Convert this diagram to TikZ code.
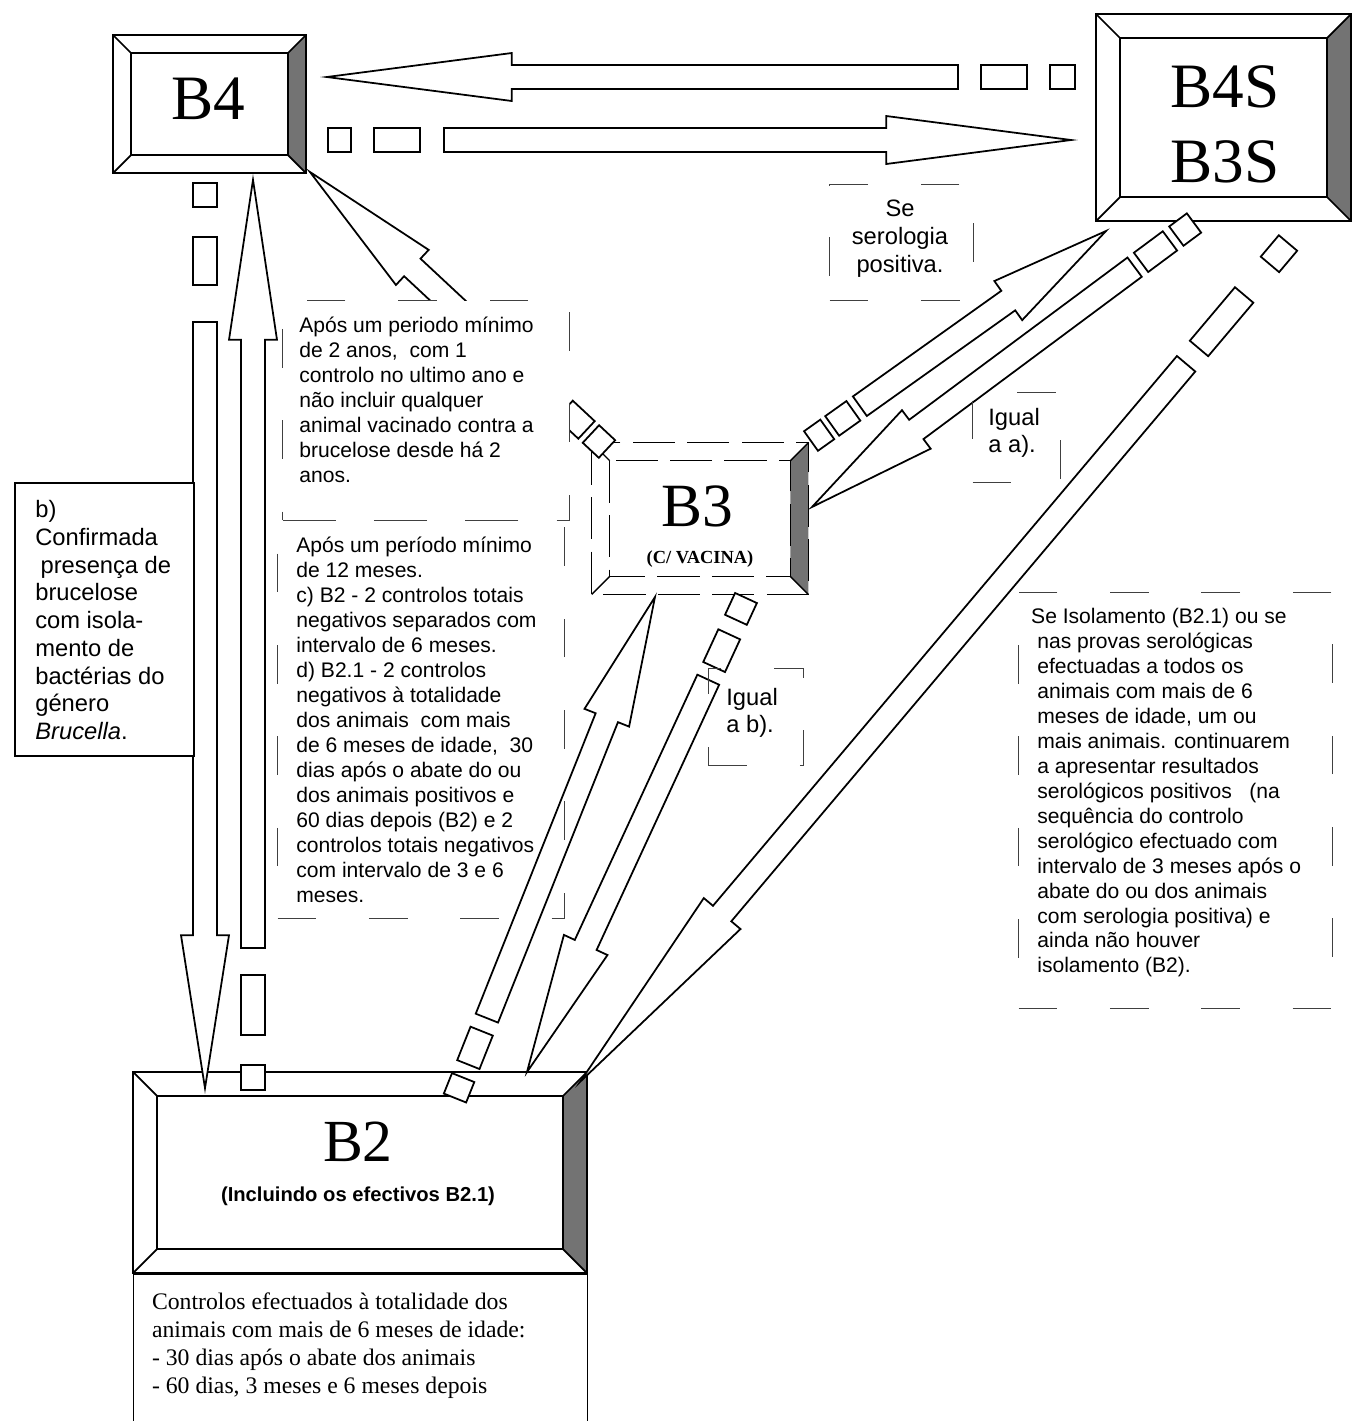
\documentclass[tikz,border=0pt]{standalone}
\usepackage{fontspec}
\setmainfont{Liberation Serif}
\setsansfont{Liberation Sans}
\usetikzlibrary{calc,positioning}

\newdimen\barxa \newdimen\barya \newdimen\barxb \newdimen\baryb
% block arrow: tail, tip, square, gap, rect, gap, head (all in px)
\newcommand{\blockarrow}[7]{%
  \pgfextractx{\barxa}{\pgfpointanchor{#1}{center}}%
  \pgfextracty{\barya}{\pgfpointanchor{#1}{center}}%
  \pgfextractx{\barxb}{\pgfpointanchor{#2}{center}}%
  \pgfextracty{\baryb}{\pgfpointanchor{#2}{center}}%
  \pgfmathsetmacro{\bardx}{(\barxb-\barxa)/28.4528}%
  \pgfmathsetmacro{\bardy}{(\baryb-\barya)/28.4528}%
  \pgfmathsetmacro{\barang}{atan2(\bardy,\bardx)}%
  \pgfmathsetmacro{\barlen}{50*veclen(\bardx,\bardy)}%
  \pgfmathsetmacro{\bara}{#3+#4}%
  \pgfmathsetmacro{\barb}{#3+#4+#5}%
  \pgfmathsetmacro{\barc}{#3+#4+#5+#6}%
  \pgfmathsetmacro{\bard}{\barlen-#7}%
  \begin{scope}[shift={(#1)},rotate=\barang,x=0.02cm,y=0.02cm]
    \draw[arrowpart] (0,-12) rectangle (#3,12);
    \draw[arrowpart] (\bara,-12) rectangle (\barb,12);
    \draw[arrowpart] (\barc,-12) -- (\bard,-12) -- (\bard,-24) -- (\barlen,0)
      -- (\bard,24) -- (\bard,12) -- (\barc,12) -- cycle;
  \end{scope}}
% bevelled frame round a node: [line style], node, inset (px)
\newcommand{\bevel}[3][]{%
  \fill[black!55] (#2.north east) -- ($(#2.north east)+(-#3,#3)$)
    -- ($(#2.south east)+(-#3,-#3)$) -- (#2.south east) -- cycle;
  \draw[line width=1pt,#1] ($(#2.north west)+(#3,#3)$) rectangle ($(#2.south east)+(-#3,-#3)$);
  \draw[line width=1pt,#1] (#2.north west) -- ++(#3,#3) (#2.south west) -- ++(#3,-#3)
    (#2.north east) -- ++(-#3,#3) (#2.south east) -- ++(-#3,-#3);
  \draw[line width=1.2pt,#1] (#2.north west) rectangle (#2.south east);}

\begin{document}
\begin{tikzpicture}[x=0.02cm,y=-0.02cm,
    frame/.style={fill=white,inner sep=0pt},
    arrowpart/.style={draw,line width=1pt,fill=white},
    title/.style={font=\fontsize{36}{36}\selectfont,inner sep=0pt,anchor=base},
    note/.style={font=\sffamily\fontsize{12}{14.2}\selectfont,align=left,inner sep=0pt,anchor=north west},
    bignote/.style={note,font=\sffamily\fontsize{13.5}{15.8}\selectfont},
    faintbox/.style={draw=black!75,line width=0.6pt,dash pattern=on 22pt off 30pt,inner sep=0pt,anchor=north west},
    brokenline/.style={dash pattern=on 24pt off 7pt,line width=0.8pt}]
    \useasboundingbox (0,0) rectangle (1353,1421);
    % frames
    \node[frame,minimum width=3.86cm,minimum height=2.76cm] (B4) at (209.5,104) {};
    \bevel{B4}{18}
    \node[title] (B4 name) at ($(B4.north)+(-1,85)$) {B4};
    \node[frame,minimum width=5.10cm,minimum height=4.14cm] (B4S) at (1223.5,117.5) {};
    \bevel{B4S}{24}
    \node[title] (B4S name) at ($(B4S.north)+(1.5,94)$) {B4S};
    \node[title] (B3S name) at ($(B4S.north)+(1.5,169)$) {B3S};
    \node[frame,minimum width=4.32cm,minimum height=3.02cm] (B3) at (700,518.5) {};
    \bevel[brokenline]{B3}{18}
    \node[title,font=\fontsize{35}{35}\selectfont] (B3 name) at ($(B3.north)+(-3,84)$) {B3};
    \node[title,font=\bfseries\fontsize{10.5}{12}\selectfont] (B3 sub) at ($(B3.north)+(0,121)$) {(C/ VACINA)};
    \node[frame,minimum width=9.08cm,minimum height=4.02cm] (B2) at (360,1172.5) {};
    \bevel{B2}{24}
    \node[title,font=\fontsize{34}{34}\selectfont] (B2 name) at ($(B2.north)+(-2,90)$) {B2};
    \node[title,font=\sffamily\bfseries\fontsize{11.5}{13}\selectfont] (B2 sub) at ($(B2.north)+(-2,130)$) {(Incluindo os efectivos B2.1)};
    \node[draw,line width=1pt,inner sep=0pt,anchor=north west,minimum width=9.08cm,minimum height=3.3cm] (B2 notes) at (B2.south west) {};
    \node[note,font=\fontsize{13.5}{15.9}\selectfont] (B2 text) at ($(B2 notes.north west)+(19,19)$)
      {Controlos efectuados à totalidade dos\\animais com mais de 6 meses de idade:\\- 30 dias após o abate dos animais\\- 60 dias, 3 meses e 6 meses depois};
    % arrows
    \coordinate (B4S-B4 tail) at (1075,77);
    \coordinate (B4S-B4 tip) at (327,77);
    \coordinate (B4-B4S tail) at (328,140);
    \coordinate (B4-B4S tip) at (1071,140);
    \coordinate (B4-B2 tail) at (205,183);
    \coordinate (B4-B2 tip) at (205,1088);
    \coordinate (B2-B4 tail) at (253,1090);
    \coordinate (B2-B4 tip) at (253,180);
    \coordinate (B3-B4 tail) at (607,449);
    \coordinate (B3-B4 tip) at (310,172);
    \coordinate (B2-B3 tail) at (455,1098);
    \coordinate (B2-B3 tip) at (655,597);
    \coordinate (B3-B2 tail) at (746,598);
    \coordinate (B3-B2 tip) at (527,1072);
    \coordinate (B3-B4S tail) at (811,441);
    \coordinate (B3-B4S tip) at (1106,231);
    \coordinate (B4S-B3 tail) at (1194,223);
    \coordinate (B4S-B3 tip) at (812,507);
    \coordinate (B4S-B2 tail) at (1288,243);
    \coordinate (B4S-B2 tip) at (580,1082);
    \blockarrow{B4S-B4 tail}{B4S-B4 tip}{25}{23}{46}{23}{185}
    \blockarrow{B4-B4S tail}{B4-B4S tip}{23}{23}{46}{24}{185}
    \blockarrow{B4-B2 tail}{B4-B2 tip}{24}{30}{48}{37}{153}
    \blockarrow{B2-B4 tail}{B2-B4 tip}{25}{30}{60}{27}{160}
    \blockarrow{B3-B4 tail}{B3-B4 tip}{22}{6}{30}{10}{140}
    \blockarrow{B2-B3 tail}{B2-B3 tip}{22}{14}{36}{14}{130}
    \blockarrow{B3-B2 tail}{B3-B2 tip}{24}{16}{36}{14}{140}
    \blockarrow{B3-B4S tail}{B3-B4S tip}{20}{6}{26}{8}{120}
    \blockarrow{B4S-B3 tail}{B4S-B3 tip}{22}{8}{36}{8}{130}
    \blockarrow{B4S-B2 tail}{B4S-B2 tip}{28}{40}{70}{20}{220}
    % text boxes
    \node[faintbox,fill=white,minimum width=5.74cm,minimum height=4.4cm] (box a) at (282,300) {};
    \node[note] (rule a) at (299,317) {Após um periodo mínimo\\de 2 anos,~ com 1\\controlo no ultimo ano e\\não incluir qualquer\\animal vacinado contra a\\brucelose desde há 2\\anos.};
    \node[faintbox,minimum width=5.74cm,minimum height=7.96cm] (box cd) at (277,520) {};
    \node[note] (rule cd) at (296,537) {Após um período mínimo\\de 12 meses.\\c) B2 - 2 controlos totais\\negativos separados com\\intervalo de 6 meses.\\d) B2.1 - 2 controlos\\negativos à totalidade\\dos animais~ com mais\\de 6 meses de idade,~ 30\\dias após o abate do ou\\dos animais positivos e\\60 dias depois (B2) e 2\\controlos totais negativos\\com intervalo de 3 e 6\\meses.};
    \node[draw,line width=1pt,fill=white,inner sep=0pt,anchor=north west,minimum width=3.58cm,minimum height=5.46cm] (box b) at (14,482) {};
    \node[bignote] (rule b) at (35,500) {b)\\Confirmada\\\hspace*{3pt}presença de\\brucelose\\com isola-\\mento de\\bactérias do\\género\\\textit{Brucella}.};
    \node[faintbox,minimum width=2.88cm,minimum height=2.32cm] (box se) at (829,184) {};
    \node[bignote,align=center,anchor=north] (rule se) at (900,200) {Se\\serologia\\positiva.};
    \node[faintbox,minimum width=1.76cm,minimum height=1.8cm] (box igual a) at (972,392) {};
    \node[bignote,font=\sffamily\fontsize{13.5}{15.3}\selectfont] (igual a) at (988,408) {Igual\\a a).};
    \node[faintbox,minimum width=1.9cm,minimum height=1.94cm] (box igual b) at (708,668) {};
    \node[bignote,font=\sffamily\fontsize{13.5}{15.3}\selectfont] (igual b) at (726,688) {Igual\\a b).};
    \node[faintbox,minimum width=6.28cm,minimum height=8.32cm] (box iso) at (1018,592) {};
    \node[note] (rule iso) at (1037,608) {\hspace*{-3.5pt}Se Isolamento (B2.1) ou se\\nas provas serológicas\\efectuadas a todos os\\animais com mais de 6\\meses de idade, um ou\\mais animais. continuarem\\a apresentar resultados\\serológicos positivos~~ (na\\sequência do controlo\\serológico efectuado com\\intervalo de 3 meses após o\\abate do ou dos animais\\com serologia positiva) e\\ainda não houver\\isolamento (B2).};
\end{tikzpicture}
\end{document}
